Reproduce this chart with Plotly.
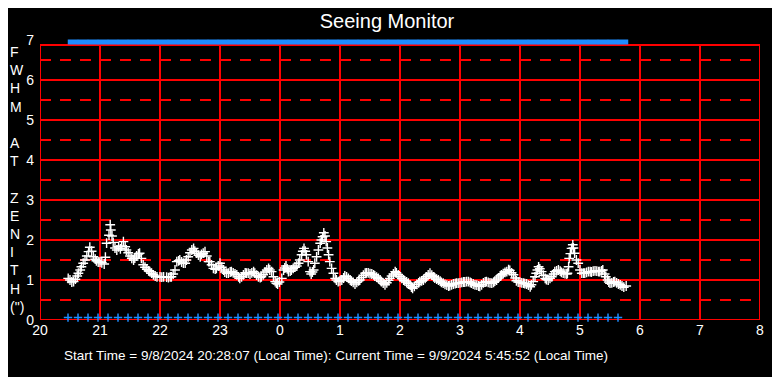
import plotly.graph_objects as go

# ---------------- data ----------------
# Seeing samples: time in hours on a continuous clock (24 = midnight, 29 = 5 AM)
seeing_time_h = [
    20.47, 20.50, 20.53, 20.56, 20.59, 20.62, 20.64, 20.67, 20.69, 20.72, 20.75, 20.78, 20.81, 20.83,
    20.86, 20.89, 20.92, 20.94, 20.97, 21.00, 21.03, 21.07, 21.09, 21.11, 21.15, 21.17, 21.18, 21.20,
    21.22, 21.25, 21.28, 21.31, 21.34, 21.36, 21.39, 21.42, 21.44, 21.47, 21.50, 21.53, 21.56, 21.58,
    21.61, 21.64, 21.66, 21.69, 21.72, 21.75, 21.78, 21.81, 21.83, 21.86, 21.89, 21.92, 21.95, 22.00,
    22.03, 22.06, 22.11, 22.14, 22.17, 22.19, 22.22, 22.25, 22.28, 22.31, 22.33, 22.36, 22.39, 22.42,
    22.44, 22.47, 22.50, 22.53, 22.56, 22.58, 22.61, 22.64, 22.67, 22.69, 22.72, 22.75, 22.78, 22.81,
    22.83, 22.86, 22.89, 22.92, 22.94, 22.97, 23.00, 23.03, 23.06, 23.08, 23.11, 23.14, 23.17, 23.19,
    23.22, 23.25, 23.28, 23.31, 23.33, 23.36, 23.39, 23.42, 23.44, 23.47, 23.50, 23.53, 23.56, 23.58,
    23.61, 23.64, 23.67, 23.69, 23.72, 23.75, 23.78, 23.81, 23.83, 23.86, 23.89, 23.92, 23.94, 23.96,
    23.99, 24.03, 24.06, 24.08, 24.10, 24.12, 24.14, 24.17, 24.19, 24.22, 24.25, 24.28, 24.31, 24.33,
    24.36, 24.38, 24.40, 24.42, 24.44, 24.47, 24.50, 24.52, 24.54, 24.56, 24.58, 24.61, 24.64, 24.67,
    24.69, 24.71, 24.73, 24.75, 24.77, 24.79, 24.81, 24.83, 24.86, 24.89, 24.92, 24.94, 24.97, 25.00,
    25.03, 25.06, 25.08, 25.11, 25.14, 25.17, 25.19, 25.22, 25.25, 25.28, 25.31, 25.33, 25.36, 25.39,
    25.42, 25.44, 25.47, 25.50, 25.53, 25.56, 25.58, 25.61, 25.64, 25.67, 25.69, 25.72, 25.75, 25.78,
    25.81, 25.83, 25.86, 25.89, 25.92, 25.94, 25.97, 26.00, 26.03, 26.06, 26.08, 26.11, 26.14, 26.17,
    26.19, 26.21, 26.24, 26.28, 26.31, 26.33, 26.36, 26.39, 26.42, 26.44, 26.47, 26.50, 26.53, 26.56,
    26.58, 26.61, 26.64, 26.67, 26.69, 26.72, 26.75, 26.78, 26.81, 26.83, 26.86, 26.89, 26.92, 26.94,
    26.97, 27.00, 27.03, 27.06, 27.08, 27.11, 27.14, 27.17, 27.19, 27.22, 27.25, 27.28, 27.31, 27.33,
    27.36, 27.39, 27.42, 27.44, 27.47, 27.50, 27.53, 27.56, 27.58, 27.61, 27.64, 27.67, 27.69, 27.72,
    27.75, 27.78, 27.81, 27.83, 27.86, 27.89, 27.92, 27.94, 27.97, 28.00, 28.03, 28.06, 28.08, 28.11,
    28.14, 28.17, 28.19, 28.22, 28.25, 28.27, 28.29, 28.31, 28.33, 28.36, 28.39, 28.42, 28.44, 28.47,
    28.50, 28.53, 28.56, 28.58, 28.61, 28.64, 28.67, 28.69, 28.72, 28.75, 28.78, 28.79, 28.81, 28.82,
    28.84, 28.86, 28.88, 28.89, 28.91, 28.94, 28.97, 29.00, 29.03, 29.06, 29.08, 29.11, 29.14, 29.17,
    29.19, 29.22, 29.25, 29.28, 29.31, 29.33, 29.36, 29.38, 29.41, 29.43, 29.46, 29.48, 29.50, 29.53,
    29.56, 29.58, 29.61, 29.64, 29.67, 29.70, 29.73, 29.77,
]
fwhm_arcsec = [
    1.04, 1.00, 0.95, 0.96, 1.02, 1.10, 1.17, 1.25, 1.33, 1.42, 1.50, 1.60, 1.71, 1.82,
    1.72, 1.58, 1.52, 1.48, 1.45, 1.45, 1.43, 1.40, 1.57, 1.92, 2.12, 2.38, 2.25, 2.10,
    1.94, 1.80, 1.75, 1.83, 1.78, 1.85, 1.96, 1.83, 1.75, 1.68, 1.60, 1.54, 1.50, 1.55,
    1.60, 1.65, 1.67, 1.54, 1.38, 1.32, 1.27, 1.23, 1.21, 1.17, 1.13, 1.10, 1.08, 1.08,
    1.07, 1.08, 1.07, 1.06, 1.08, 1.08, 1.15, 1.25, 1.46, 1.48, 1.50, 1.45, 1.42, 1.42,
    1.50, 1.58, 1.68, 1.75, 1.79, 1.72, 1.67, 1.62, 1.58, 1.64, 1.67, 1.71, 1.60, 1.46,
    1.46, 1.38, 1.29, 1.27, 1.29, 1.35, 1.42, 1.32, 1.25, 1.20, 1.17, 1.17, 1.20, 1.21,
    1.18, 1.15, 1.13, 1.08, 1.04, 1.08, 1.13, 1.18, 1.17, 1.17, 1.15, 1.18, 1.21, 1.17,
    1.12, 1.08, 1.06, 1.08, 1.13, 1.20, 1.25, 1.29, 1.25, 1.21, 1.08, 0.96, 0.92, 0.90,
    0.95, 1.04, 1.25, 1.30, 1.35, 1.28, 1.21, 1.22, 1.25, 1.29, 1.32, 1.35, 1.42, 1.50,
    1.63, 1.72, 1.79, 1.72, 1.63, 1.46, 1.21, 1.15, 1.20, 1.25, 1.42, 1.58, 1.75, 1.92,
    2.00, 2.08, 2.18, 2.10, 1.96, 1.80, 1.63, 1.46, 1.29, 1.17, 1.04, 1.00, 0.96, 0.98,
    1.00, 1.05, 1.10, 1.08, 1.04, 1.00, 0.97, 0.94, 0.90, 0.94, 0.98, 1.00, 1.06, 1.12,
    1.17, 1.18, 1.18, 1.16, 1.15, 1.13, 1.10, 1.07, 1.04, 1.00, 0.96, 0.92, 0.88, 0.93,
    0.99, 1.04, 1.10, 1.15, 1.21, 1.18, 1.13, 1.08, 1.04, 1.00, 0.98, 0.95, 0.92, 0.87,
    0.82, 0.79, 0.84, 0.89, 0.93, 0.96, 0.98, 1.00, 1.04, 1.08, 1.13, 1.17, 1.12, 1.08,
    1.05, 1.02, 1.00, 0.97, 0.94, 0.92, 0.89, 0.87, 0.85, 0.86, 0.88, 0.90, 0.91, 0.92,
    0.92, 0.93, 0.94, 0.95, 0.95, 0.96, 0.96, 0.94, 0.92, 0.90, 0.88, 0.87, 0.85, 0.84,
    0.88, 0.93, 0.95, 0.96, 0.94, 0.93, 0.92, 0.94, 0.97, 1.00, 1.05, 1.10, 1.13, 1.16,
    1.19, 1.21, 1.26, 1.24, 1.18, 1.13, 1.05, 0.98, 0.95, 0.94, 0.93, 0.92, 0.91, 0.90,
    0.87, 0.83, 0.88, 0.96, 1.08, 1.17, 1.25, 1.33, 1.28, 1.21, 1.12, 1.04, 1.01, 1.00,
    1.04, 1.08, 1.15, 1.21, 1.23, 1.25, 1.22, 1.19, 1.17, 1.16, 1.15, 1.17, 1.33, 1.54,
    1.66, 1.79, 1.88, 1.80, 1.67, 1.50, 1.42, 1.25, 1.17, 1.17, 1.17, 1.19, 1.21, 1.21,
    1.20, 1.22, 1.23, 1.22, 1.21, 1.21, 1.23, 1.25, 1.15, 1.08, 1.00, 0.95, 0.92, 0.93,
    0.95, 0.96, 0.93, 0.90, 0.88, 0.85, 0.82, 0.85,
]

# Status markers along the bottom (blue crosses), local clock times
status_low_times = [
    "20:28", "20:38", "20:48", "20:58", "21:08", "21:18", "21:28", "21:38", "21:48", "21:58",
    "22:08", "22:18", "22:28", "22:38", "22:48", "22:58", "23:08", "23:18", "23:28", "23:38",
    "23:48", "23:58", "0:08", "0:18", "0:28", "0:38", "0:48", "0:58", "1:08", "1:18",
    "1:28", "1:38", "1:48", "1:58", "2:08", "2:18", "2:28", "2:38", "2:48", "2:58",
    "3:08", "3:18", "3:28", "3:38", "3:48", "3:58", "4:08", "4:18", "4:28", "4:38",
    "4:48", "4:58", "5:08", "5:18", "5:28", "5:38",
]
# Status markers along the top (blue blocks), local clock times
status_high_times = [
    "20:33", "20:43", "20:53", "21:03", "21:13", "21:23", "21:33", "21:43", "21:53", "22:03",
    "22:13", "22:23", "22:33", "22:43", "22:53", "23:03", "23:13", "23:23", "23:33", "23:43",
    "23:53", "0:03", "0:13", "0:23", "0:33", "0:43", "0:53", "1:03", "1:13", "1:23",
    "1:33", "1:43", "1:53", "2:03", "2:13", "2:23", "2:33", "2:43", "2:53", "3:03",
    "3:13", "3:23", "3:33", "3:43", "3:53", "4:03", "4:13", "4:23", "4:33", "4:43",
    "4:53", "5:03", "5:13", "5:23", "5:33", "5:43",
]
status_low_value = [0.06] * len(status_low_times)
status_high_value = [6.95] * len(status_high_times)

x_tick_vals = [20, 21, 22, 23, 24, 25, 26, 27, 28, 29, 30, 31, 32]
x_tick_text = ["20", "21", "22", "23", "0", "1", "2", "3", "4", "5", "6", "7", "8"]
y_tick_vals = [0, 1, 2, 3, 4, 5, 6, 7]
y_solid_grid = [1, 2, 3, 4, 5, 6]
y_dashed_grid = [0.5, 1.5, 2.5, 3.5, 4.5, 5.5, 6.5]

title_text = "Seeing Monitor"
footer_text = "Start Time = 9/8/2024 20:28:07 (Local Time): Current Time = 9/9/2024 5:45:52 (Local Time)"
y_title_letters = ["F", "W", "H", "M", " ", "A", "T", " ", "Z", "E", "N", "I", "T", "H", "(\")"]


def clock_to_hours(s):
    h, m = s.split(":")
    h = int(h)
    if h < 12:
        h += 24
    return h + int(m) / 60.0


status_low_x = [clock_to_hours(t) for t in status_low_times]
status_high_x = [clock_to_hours(t) for t in status_high_times]

# ---------------- figure ----------------
FONT = "Liberation Sans, Arial, sans-serif"
RED = "#ff0000"
BLUE = "#1e8cff"
X_MIN, X_MAX = 20, 32
FRAME_TOP = 6.875
PAGE_OFFSET = 8  # browser default body margin
L, R, T, B = 40 - PAGE_OFFSET, 20 + PAGE_OFFSET, 40 - PAGE_OFFSET, 57 + PAGE_OFFSET
PLOT_W, PLOT_H = 780 - L - R, 377 - T - B

fig = go.Figure()

fig.add_trace(go.Scatter(
    x=status_low_x, y=status_low_value, mode="markers", cliponaxis=False,
    marker=dict(symbol="cross-thin", size=6, color=BLUE, line=dict(color=BLUE, width=1.5)),
    hoverinfo="skip", showlegend=False,
))
fig.add_trace(go.Scatter(
    x=status_high_x, y=status_high_value, mode="markers", cliponaxis=False,
    marker=dict(symbol="line-ew", size=7.5, color=BLUE, line=dict(color=BLUE, width=5)),
    hoverinfo="skip", showlegend=False,
))
fig.add_trace(go.Scatter(
    x=seeing_time_h, y=fwhm_arcsec, mode="markers", cliponaxis=False,
    marker=dict(symbol="cross-thin", size=7, color="white", line=dict(color="white", width=1.4)),
    showlegend=False,
))

shapes = []
for xv in x_tick_vals[1:-1]:
    shapes.append(dict(type="line", xref="x", yref="y", x0=xv, x1=xv, y0=0, y1=FRAME_TOP,
                       line=dict(color=RED, width=2), layer="below"))
for yv in y_solid_grid:
    shapes.append(dict(type="line", xref="x", yref="y", x0=X_MIN, x1=X_MAX, y0=yv, y1=yv,
                       line=dict(color=RED, width=2), layer="below"))
for yv in y_dashed_grid:
    shapes.append(dict(type="line", xref="x", yref="y", x0=X_MIN, x1=X_MAX, y0=yv, y1=yv,
                       line=dict(color=RED, width=2, dash="11px,9px"), layer="below"))
shapes.append(dict(type="rect", xref="x", yref="y", x0=X_MIN, x1=X_MAX, y0=0, y1=FRAME_TOP,
                   line=dict(color=RED, width=2), layer="below"))

fig.update_layout(
    width=780, height=377,
    margin=dict(l=L, r=R, t=T, b=B, autoexpand=False),
    paper_bgcolor="black", plot_bgcolor="black",
    font=dict(family=FONT, color="white", size=13),
    title=dict(text=title_text, x=(387 - PAGE_OFFSET) / 780, xanchor="center",
               y=1 - (21 - PAGE_OFFSET) / 377, yanchor="middle",
               yref="container", xref="container",
               font=dict(size=20, color="white", family=FONT)),
    xaxis=dict(range=[X_MIN, X_MAX], tickvals=x_tick_vals, ticktext=x_tick_text,
               showgrid=False, zeroline=False, showline=False, ticks="", automargin=False,
               tickfont=dict(size=14, color="white")),
    yaxis=dict(range=[0, 7], tickvals=y_tick_vals, showgrid=False, zeroline=False,
               showline=False, ticks="", automargin=False, ticklabelstandoff=5,
               tickfont=dict(size=14, color="white")),
    shapes=shapes,
    annotations=[
        dict(text="<br>".join(y_title_letters), xref="paper", yref="paper",
             x=(0.5 - L) / PLOT_W, y=(320 - 179.5) / PLOT_H, xanchor="left", yanchor="middle",
             showarrow=False, borderpad=0, align="left",
             font=dict(size=14, color="white", family=FONT)),
        dict(text=footer_text, xref="paper", yref="paper",
             x=(62 - 40) / PLOT_W, y=-35 / PLOT_H, xanchor="left", yanchor="middle",
             showarrow=False, font=dict(size=13.5, color="white", family=FONT)),
    ],
)

fig.write_html("out.html")
